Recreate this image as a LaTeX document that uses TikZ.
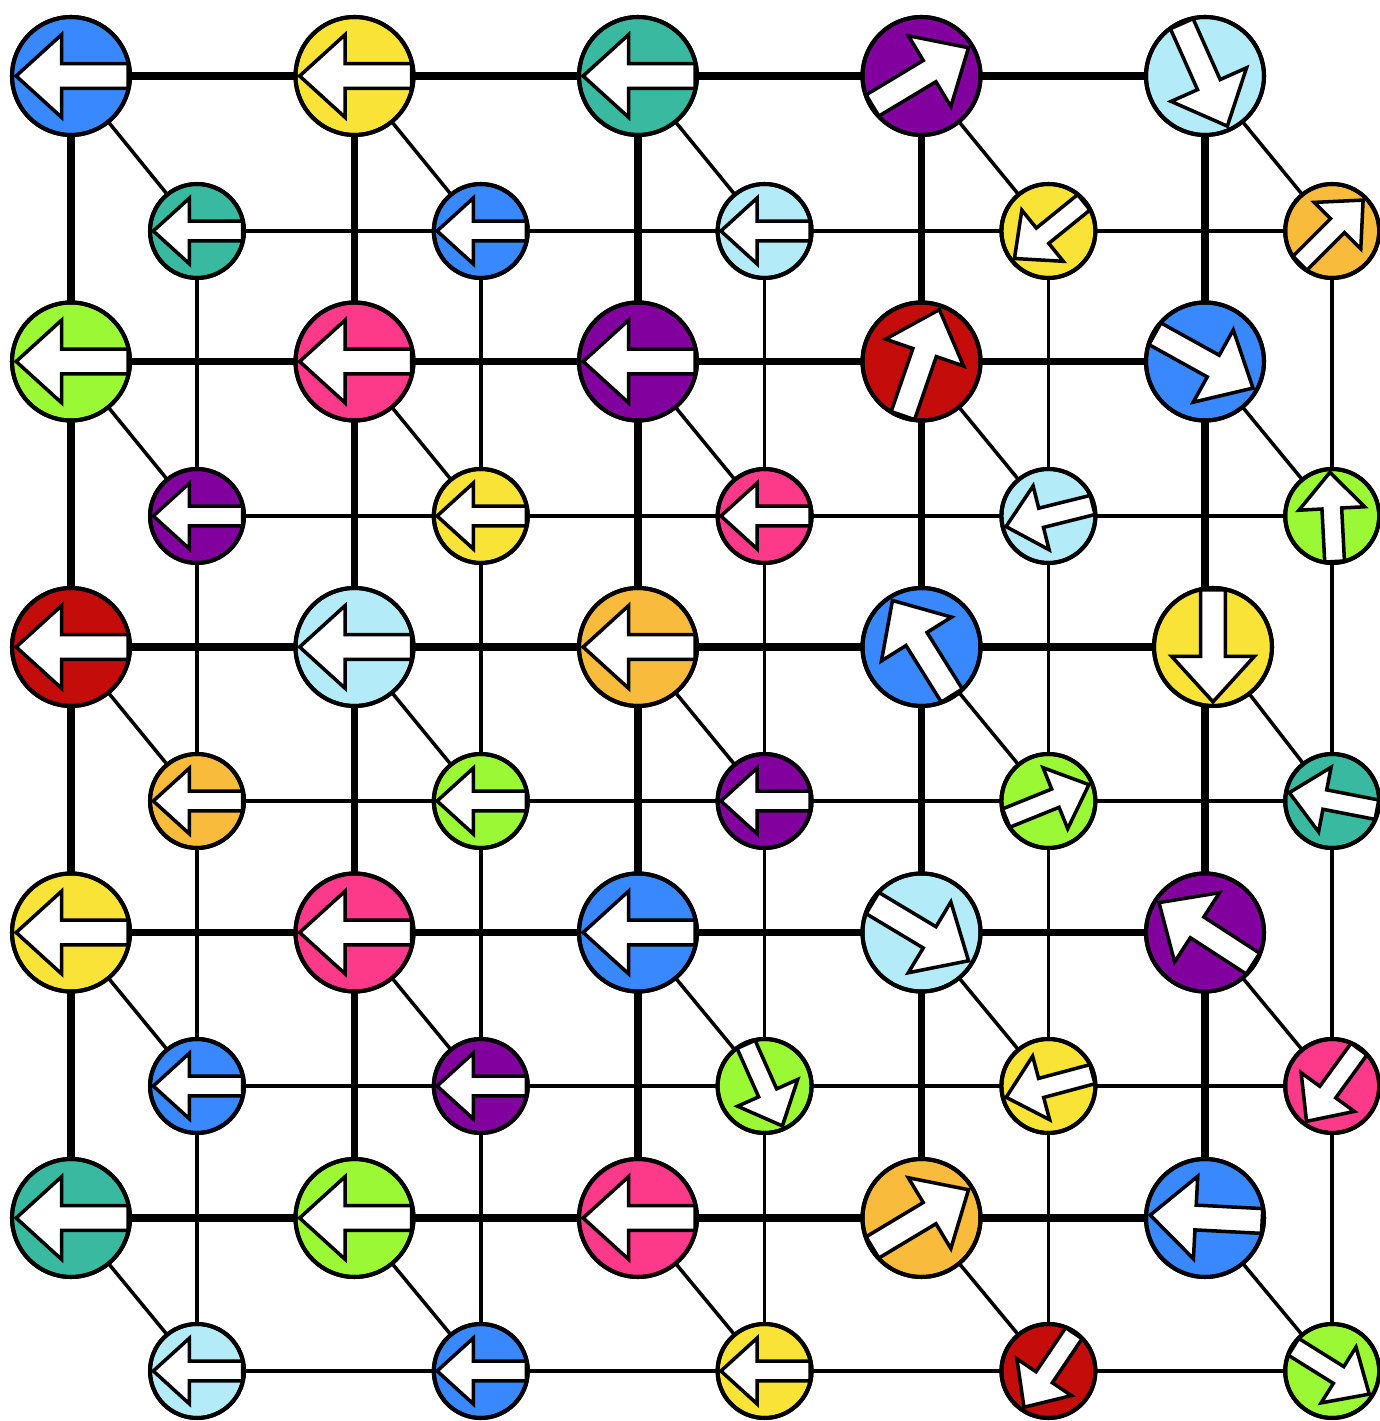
\documentclass[tikz,border=0pt]{standalone}
\usetikzlibrary{calc}

\definecolor{cblue}{RGB}{58,136,253}
\definecolor{cyellow}{RGB}{250,227,55}
\definecolor{cteal}{RGB}{57,185,159}
\definecolor{cpurple}{RGB}{130,0,158}
\definecolor{ccyan}{RGB}{180,235,248}
\definecolor{corange}{RGB}{249,187,60}
\definecolor{cgreen}{RGB}{155,248,52}
\definecolor{cpink}{RGB}{253,58,137}
\definecolor{cred}{RGB}{196,12,10}

% weisser Blockpfeil in einer Kugel: #1 Knoten, #2 Radius, #3 Richtung
\newcommand{\arrowin}[3]{%
  \begin{scope}
    \clip (#1.center) circle[radius=#2];
    \draw[arrowbody, shift={(#1.center)}, rotate=#3, scale=#2]
      (-0.97,-0.21) -- (0.16,-0.21) -- (0.16,-0.7) -- (0.93,0)
      -- (0.16,0.7) -- (0.16,0.21) -- (-0.97,0.21) -- cycle;
  \end{scope}
  \draw[rim] (#1.center) circle[radius=#2];}

\begin{document}
\begin{tikzpicture}[x=0.02cm, y=0.02cm,
    ball/.style={circle, draw, line width=2.3pt, inner sep=0pt, outer sep=0pt},
    rim/.style={line width=2.3pt},
    arrowbody/.style={fill=white, draw=black, line width=2pt},
    big/.style={ball, minimum size=2.36cm},
    small/.style={ball, minimum size=1.88cm},
    bond/.style={line width=4pt},
    link/.style={line width=2pt}]

\useasboundingbox (0,0) rectangle (1380,1421);

% hintere Ebene (kleine Kugeln)
\foreach \r/\c/\col/\ang in {1/1/cteal/180, 1/2/cblue/180, 1/3/ccyan/180, 1/4/cyellow/219, 1/5/corange/45,
    2/1/cpurple/180, 2/2/cyellow/180, 2/3/cpink/180, 2/4/ccyan/194, 2/5/cgreen/93,
    3/1/corange/180, 3/2/cgreen/180, 3/3/cpurple/180, 3/4/cgreen/22, 3/5/cteal/169,
    4/1/cblue/180, 4/2/cpurple/180, 4/3/cgreen/-66, 4/4/cyellow/195, 4/5/cpink/234,
    5/1/ccyan/180, 5/2/cblue/180, 5/3/cyellow/180, 5/4/cred/236, 5/5/cgreen/-32} {
    \node[small, fill=\col] (S\r\c) at ({197+283.8*(\c-1)}, {1190-285*(\r-1)}) {};
    \arrowin{S\r\c}{47}{\ang}
}

% vordere Ebene (grosse Kugeln)
\foreach \r/\c/\col/\ang in {1/1/cblue/180, 1/2/cyellow/180, 1/3/cteal/180, 1/4/cpurple/31, 1/5/ccyan/-66,
    2/1/cgreen/180, 2/2/cpink/180, 2/3/cpurple/180, 2/4/cred/71, 2/5/cblue/-29,
    3/1/cred/180, 3/2/ccyan/180, 3/3/corange/180, 3/4/cblue/122,
    4/1/cyellow/180, 4/2/cpink/180, 4/3/cblue/180, 4/4/ccyan/-31, 4/5/cpurple/147,
    5/1/cteal/180, 5/2/cgreen/180, 5/3/cpink/180, 5/4/corange/31, 5/5/cblue/177} {
    \node[big, fill=\col] (B\r\c) at ({71+283.5*(\c-1)}, {1345-285.5*(\r-1)}) {};
    \arrowin{B\r\c}{59}{\ang}
}
\node[big, fill=cyellow] (B35) at (1213,774) {}; % etwas nach rechts versetzt
\arrowin{B35}{59}{-90}

% Gitter hinten und vorne
\foreach \r in {1,...,5} {
  \foreach \c [evaluate=\c as \n using int(\c+1)] in {1,...,4} {
    \draw[link] (S\r\c) -- (S\r\n);
    \draw[link] (S\c\r) -- (S\n\r);
    \draw[bond] (B\r\c) -- (B\r\n);
  }
}
\foreach \c in {1,...,4} {
  \foreach \r [evaluate=\r as \n using int(\r+1)] in {1,...,4} {
    \draw[bond] (B\r\c) -- (B\n\c);
  }
}
% letzte Spalte, B35 sitzt nicht genau auf der Linie
\draw[bond] (B15) -- (B25);
\draw[bond] (B25) -- (B25 |- B35.north);
\draw[bond] (B45 |- B35.south) -- (B45);
\draw[bond] (B45) -- (B55);

% Verbindungen vorne - hinten
\foreach \r in {1,...,5} {
  \foreach \c in {1,...,5} {
    \draw[link] (B\r\c) -- (S\r\c);
  }
}

\end{tikzpicture}
\end{document}
